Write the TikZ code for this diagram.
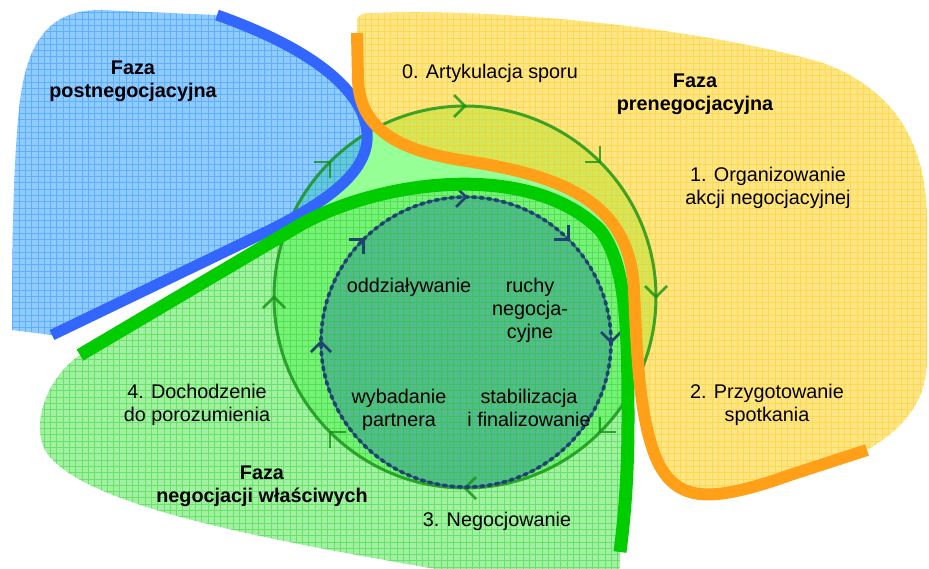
\documentclass[tikz,border=0pt]{standalone}
\usepackage{fontspec}
\setmainfont{Liberation Sans}
\usetikzlibrary{calc}
\definecolor{bluefill}{RGB}{68,168,255}
\definecolor{bluegrid}{RGB}{25,135,255}
\definecolor{yelfill}{RGB}{255,214,51}
\definecolor{yelgrid}{RGB}{255,196,10}
\definecolor{grnfill}{RGB}{100,232,100}
\definecolor{grngrid}{RGB}{20,205,20}
\definecolor{centerfill}{RGB}{150,255,150}
\definecolor{innerfill}{RGB}{60,120,200}
\definecolor{cycleline}{RGB}{20,145,20}
\definecolor{dashline}{RGB}{28,68,108}
\definecolor{dashunder}{RGB}{60,125,140}
\definecolor{bluethick}{RGB}{51,102,255}
\definecolor{greenthick}{RGB}{0,204,0}
\definecolor{orangethick}{RGB}{255,160,24}

\newcommand\blueregion{(52,335) -- (270,230) .. controls (330,200) and (370,170) .. (367,133) .. controls (365,100) and (330,55) .. (217,15) -- (100,10) .. controls (50,10) and (28,40) .. (20,100) .. controls (13,160) and (12,250) .. (12,330) -- cycle}
\newcommand\yellowregion{(357,35) -- (357,22) .. controls (357,14) and (362,13) .. (375,13) .. controls (500,8) and (700,28) .. (820,62) .. controls (900,90) and (927,150) .. (927,220) -- (927,360) .. controls (927,400) and (905,428) .. (867,450) -- (790,475) .. controls (720,500) and (690,500) .. (670,480) .. controls (640,450) and (637,360) .. (634,290) .. controls (630,200) and (560,175) .. (460,160) .. controls (400,150) and (360,130) .. (358,80) -- cycle}
\newcommand\greenregion{(80,355) -- (300,225) .. controls (380,180) and (530,160) .. (600,230) .. controls (627,265) and (628,330) .. (628,420) .. controls (628,480) and (624,520) .. (620,552) -- (619,600) -- (470,600) -- (470,575) .. controls (300,545) and (80,510) .. (45,450) .. controls (30,420) and (50,375) .. cycle}
\newcommand\gridlines[1]{%
  \draw[#1, line width=0.6pt, draw opacity=0.4]
    \foreach \i in {0,...,148} {(\i*6.3,0) -- (\i*6.3,600)}
    \foreach \j in {0,...,95} {(0,\j*6.3) -- (940,\j*6.3)};}
% chevron on a circle: #1 centre, #2 radius, #3 angle (clockwise on screen), #4 depth, #5 half width
\newcommand\chevat[5]{%
  \draw ($(#1)+(#3:#2)+(#3+90:-#4)+(#3:#5)$) -- ($(#1)+(#3:#2)$) -- ($(#1)+(#3:#2)+(#3+90:-#4)+(#3:-#5)$);}

\tikzset{
  lbl/.style={font=\fontsize{19.8}{23}\selectfont, inner sep=0pt, align=center},
  phase/.style={font=\fontsize{19.8}{23}\selectfont\bfseries, inner sep=0pt, align=center},
  regionfill/.style={fill=#1, fill opacity=0.6},
  outerchev/.style={cycleline, line width=2.8pt, draw opacity=0.8, line join=miter},
  innerchev/.style={dashline, line width=2.8pt, line join=miter},
}

\begin{document}
\begin{tikzpicture}[x=1pt,y=-1pt]
\useasboundingbox (0,0) rectangle (929,568);
\clip (0,0) rectangle (929,568);
\coordinate (oc) at (465,297);
\coordinate (ic) at (466,342);

% circles' fills
\fill[centerfill] (oc) circle [radius=191];
\fill[innerfill] (ic) circle [radius=145];

% phase regions
\begin{scope}
  \clip \blueregion;
  \fill[regionfill=bluefill] \blueregion;
  \gridlines{bluegrid}
\end{scope}
\begin{scope}
  \clip \yellowregion;
  \fill[regionfill=yelfill] \yellowregion;
  \gridlines{yelgrid}
\end{scope}
\begin{scope}
  \clip \greenregion;
  \fill[regionfill=grnfill] \greenregion;
  \gridlines{grngrid}
\end{scope}

% outer cycle
\draw[cycleline, line width=3pt, draw opacity=0.8] (oc) circle [radius=191];
\begin{scope}[outerchev]
  \foreach \a in {0,45,...,315} {\chevat{oc}{191}{\a}{11}{11}}
\end{scope}

% inner cycle
\draw[dashunder, line width=2pt] (ic) circle [radius=145];
\draw[dashline, line width=3.6pt, line cap=round, dash pattern=on 3pt off 4.5pt] (ic) circle [radius=145];
\begin{scope}[innerchev]
  \foreach \a in {0,180,225,270,315} {\chevat{ic}{145}{\a}{10}{10}}
\end{scope}

% thick phase boundaries
\draw[bluethick, line width=11pt] (52,335) -- (270,230) .. controls (330,200) and (370,170) .. (367,133) .. controls (365,100) and (330,55) .. (217,15);
\draw[greenthick, line width=13pt] (80,355) -- (300,225) .. controls (380,180) and (530,160) .. (600,230) .. controls (627,265) and (628,330) .. (628,420) .. controls (628,480) and (624,520) .. (620,552);
\draw[orangethick, line width=12pt] (357,33) -- (358,80) .. controls (360,130) and (400,150) .. (460,160) .. controls (560,175) and (630,200) .. (634,290) .. controls (637,360) and (640,450) .. (670,480) .. controls (690,500) and (720,500) .. (790,475) -- (867,450);

% texts
\node[phase] (postfaza) at (133,81.5) {Faza\\postnegocjacyjna};
\node[lbl, anchor=base] (etap0) at (490,78) {0. Artykulacja sporu};
\node[phase] (prefaza) at (695,94.5) {Faza\\prenegocjacyjna};
\node[lbl] (etap1) at (768,188) {1. Organizowanie\\akcji negocjacyjnej};
\node[lbl] (etap2) at (767,405) {2. Przygotowanie\\spotkania};
\node[lbl, anchor=base] (etap3) at (497,526) {3. Negocjowanie};
\node[lbl] (etap4) at (197,405) {4. Dochodzenie\\do porozumienia};
\node[phase] (wlfaza) at (262,486.5) {Faza\\negocjacji właściwych};
\node[lbl, anchor=base] (oddz) at (409,292) {oddziaływanie};
\node[lbl] (ruchy) at (530,310) {ruchy\\negocja-\\cyjne};
\node[lbl] (wyb) at (399,410) {wybadanie\\partnera};
\node[lbl] (stab) at (529,408) {stabilizacja\\i finalizowanie};
\end{tikzpicture}
\end{document}
